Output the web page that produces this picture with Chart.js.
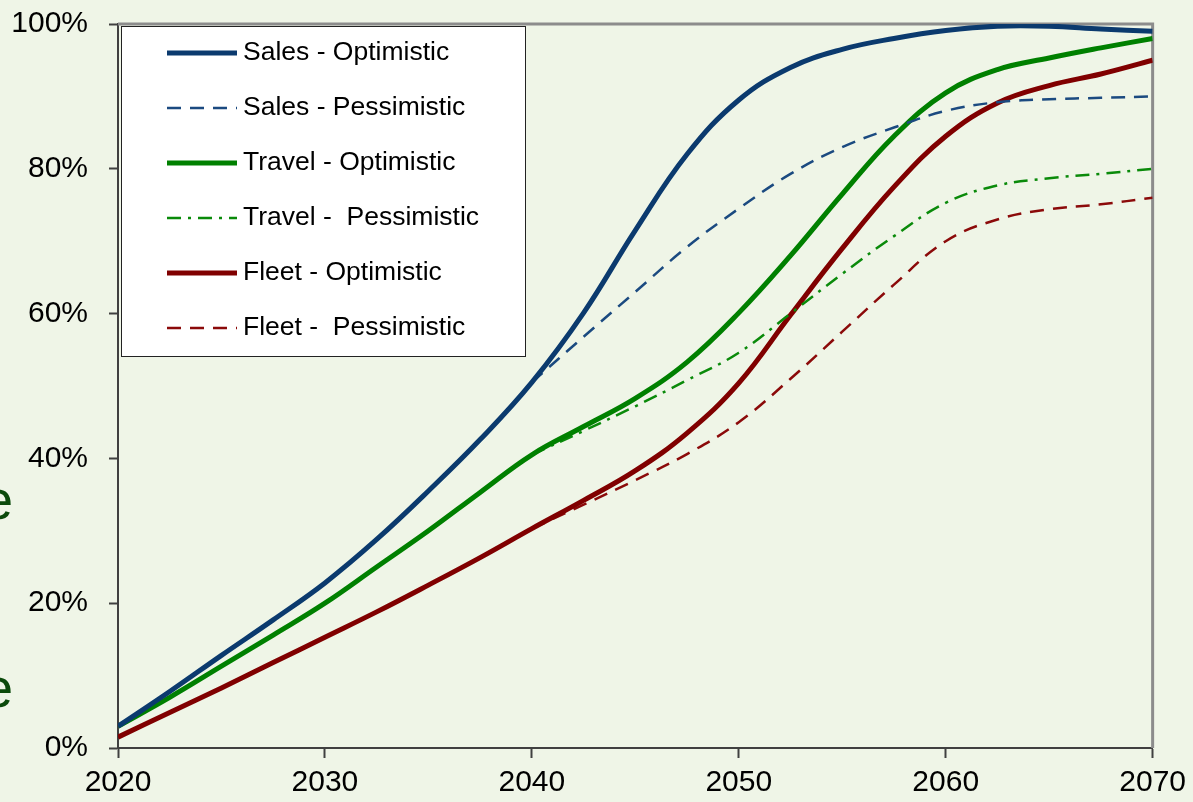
<!DOCTYPE html>
<html>
<head>
<meta charset="utf-8">
<script src="https://cdn.jsdelivr.net/npm/chart.js@4.4.1/dist/chart.umd.min.js"></script>
<style>
    body { margin: 0; background: #eff5e7; overflow: hidden; }
    #wrap { position: relative; width: 1193px; height: 802px; }
    .cut { position: absolute; left: -18px; font-family: 'Liberation Sans', Arial, sans-serif; font-size: 56px; color: #0b4a0b; line-height: 1; }
</style>
</head>
<body>
<div id="wrap">
    <span class="cut" style="top: 472px;">e</span>
    <span class="cut" style="top: 660px;">e</span>
    <canvas id="adoptionChart" width="1193" height="802"></canvas>
</div>
<script>
// Years sampled along the curves (every 2.5 years)
const years = [2020, 2022.5, 2025, 2027.5, 2030, 2032.5, 2035, 2037.5, 2040, 2042.5, 2045,
    2047.5, 2050, 2052.5, 2055, 2057.5, 2060, 2062.5, 2065, 2067.5, 2070];

// Share (%) per scenario
const salesOptimistic   = [3, 7.8, 12.8, 17.7, 22.8, 28.8, 35.5, 42.6, 50.5, 60.1, 71.5, 82, 89.5, 94, 96.5, 98, 99.1, 99.7, 99.7, 99.3, 99];
const salesPessimistic  = [null, null, null, null, null, null, null, null, 50.5, 56.8, 63, 69.2, 74.5, 79.3, 83, 85.7, 88, 89.2, 89.6, 89.8, 90];
const travelOptimistic  = [3, 7, 11.3, 15.6, 20, 25, 30, 35.3, 40.5, 44.4, 48.3, 53.3, 60.1, 68, 76.5, 84.5, 90.5, 93.7, 95.3, 96.7, 98];
const travelPessimistic = [null, null, null, null, null, null, null, null, 40.5, 43.8, 47.2, 50.8, 54.6, 60, 65.5, 70.7, 75.3, 77.7, 78.7, 79.3, 80];
const fleetOptimistic   = [1.5, 4.9, 8.3, 11.8, 15.3, 18.8, 22.5, 26.3, 30.3, 34.2, 38.3, 43.5, 50.4, 59.8, 69, 77.5, 84.5, 89.1, 91.5, 93.1, 95];
const fleetPessimistic  = [null, null, null, null, null, null, null, null, 30.3, 33.6, 37, 40.6, 45, 51, 57.5, 64, 70, 73, 74.4, 75.1, 76];

const yTicks = [0, 20, 40, 60, 80, 100];
const xTicks = [2020, 2030, 2040, 2050, 2060, 2070];

const toPoints = (values) => years
    .map((yr, i) => ({ x: yr, y: values[i] }))
    .filter((p) => p.y !== null);

const fontFamily = "'Liberation Sans', Arial, sans-serif";

// Frame on top/right plus the boxed legend inside the plot
const boxLegend = {
    id: 'boxLegend',
    beforeDatasetsDraw(chart) {
        const { ctx, chartArea } = chart;
        ctx.save();
        ctx.strokeStyle = '#8c8c8c';
        ctx.lineWidth = 3;
        ctx.beginPath();
        ctx.moveTo(chartArea.left, chartArea.top);
        ctx.lineTo(chartArea.right, chartArea.top);
        ctx.lineTo(chartArea.right, chartArea.bottom);
        ctx.stroke();
        ctx.restore();
    },
    afterDraw(chart) {
        const { ctx, chartArea } = chart;
        const x0 = chartArea.left + 3;
        const y0 = chartArea.top + 2;
        ctx.save();
        ctx.fillStyle = '#ffffff';
        ctx.fillRect(x0, y0, 404, 330);
        ctx.strokeStyle = '#222';
        ctx.lineWidth = 1;
        ctx.strokeRect(x0 + 0.5, y0 + 0.5, 404, 330);
        ctx.font = '26.5px ' + fontFamily;
        ctx.textBaseline = 'middle';
        ctx.fillStyle = '#000';
        chart.data.datasets.forEach((ds, i) => {
            const y = y0 + 27 + i * 55;
            ctx.strokeStyle = ds.borderColor;
            ctx.lineWidth = ds.borderWidth;
            ctx.setLineDash(ds.borderDash || []);
            ctx.beginPath();
            ctx.moveTo(x0 + 46, y);
            ctx.lineTo(x0 + 116, y);
            ctx.stroke();
            ctx.fillText(ds.label, x0 + 122, y);
        });
        ctx.restore();
    },
};

const ctx = document.getElementById('adoptionChart').getContext('2d');

new Chart(ctx, {
    type: 'line',
    data: {
        datasets: [
            { label: 'Sales - Optimistic', data: toPoints(salesOptimistic), borderColor: '#0b3a6e', borderWidth: 5 },
            { label: 'Sales - Pessimistic', data: toPoints(salesPessimistic), borderColor: '#1b4a80', borderWidth: 2.5, borderDash: [14, 9] },
            { label: 'Travel - Optimistic', data: toPoints(travelOptimistic), borderColor: '#008000', borderWidth: 5 },
            { label: 'Travel -  Pessimistic', data: toPoints(travelPessimistic), borderColor: '#0a8a0a', borderWidth: 2.5, borderDash: [14, 7, 3, 7] },
            { label: 'Fleet - Optimistic', data: toPoints(fleetOptimistic), borderColor: '#800000', borderWidth: 5 },
            { label: 'Fleet -  Pessimistic', data: toPoints(fleetPessimistic), borderColor: '#8b0a0a', borderWidth: 2.5, borderDash: [14, 9] },
        ],
    },
    options: {
        responsive: false,
        animation: false,
        layout: { padding: { top: 24, right: 40, left: 0, bottom: 0 } },
        elements: {
            point: { radius: 0 },
            line: { tension: 0.4, fill: false, borderCapStyle: 'butt' },
        },
        plugins: {
            legend: { display: false },
            tooltip: { enabled: false },
        },
        scales: {
            x: {
                type: 'linear',
                min: 2020,
                max: 2070,
                afterBuildTicks: (scale) => { scale.ticks = xTicks.map((v) => ({ value: v })); },
                afterFit: (scale) => { scale.height = 54; },
                grid: { drawOnChartArea: false, tickLength: 10, tickWidth: 2, tickColor: '#404040' },
                border: { color: '#404040', width: 2 },
                ticks: {
                    color: '#000',
                    padding: 7,
                    maxRotation: 0,
                    font: { family: fontFamily, size: 30 },
                    callback: (v) => String(v),
                },
            },
            y: {
                min: 0,
                max: 100,
                afterBuildTicks: (scale) => { scale.ticks = yTicks.map((v) => ({ value: v })); },
                afterFit: (scale) => {
                    scale.width = 118;
                    scale.paddingTop = 0;
                    scale.paddingBottom = 0;
                },
                grid: { drawOnChartArea: false, tickLength: 9, tickWidth: 2, tickColor: '#404040' },
                border: { color: '#404040', width: 2 },
                ticks: {
                    color: '#000',
                    padding: 21,
                    font: { family: fontFamily, size: 30 },
                    callback: (v) => v + '%',
                },
            },
        },
    },
    plugins: [boxLegend],
});
</script>
</body>
</html>
